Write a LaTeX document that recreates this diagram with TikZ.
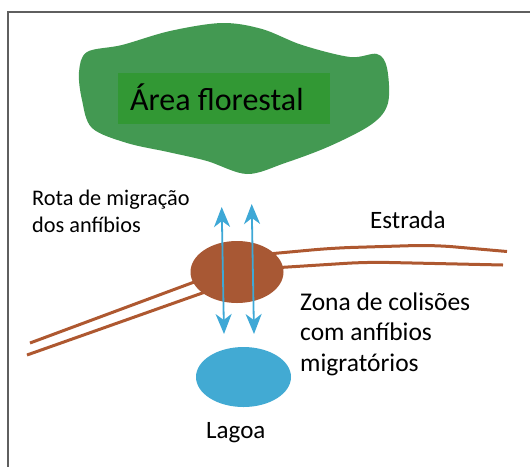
\documentclass[tikz,border=0pt]{standalone}
\usepackage{fontspec}
\setmainfont{Carlito}
\usetikzlibrary{arrows.meta,shapes.geometric}
\definecolor{blobgreen}{RGB}{67,153,82}
\definecolor{rectgreen}{RGB}{50,152,52}
\definecolor{roadbrown}{RGB}{174,88,48}
\definecolor{zonebrown}{RGB}{168,88,52}
\definecolor{lakeblue}{RGB}{66,170,211}
\definecolor{arrowblue}{RGB}{62,168,214}
\definecolor{framegray}{RGB}{95,95,95}
\tikzset{
  road/.style={draw=roadbrown, line width=3pt, line join=round},
  migr/.style={draw=arrowblue, line width=1.8pt, {Stealth[length=20pt,width=16pt,inset=6pt]}-{Stealth[length=20pt,width=16pt,inset=6pt]}},
  lbl/.style={anchor=base west, inner sep=0pt, text=black},
}
\begin{document}
\begin{tikzpicture}[x=1pt,y=-1pt]
\useasboundingbox (0,0) rectangle (530,467);
% frame
\coordinate (fTL) at (8,11.5);
\coordinate (fTR) at (530,11.5);
\coordinate (fBL) at (8,467);
\draw[framegray, line width=2pt] (fTR) -- (fTL) -- (fBL);
% forest blob
\fill[blobgreen] plot[smooth cycle, tension=0.55] coordinates {
 (79,72) (87,52) (122,45) (170,31) (222,23) (262,29) (302,45) (350,57) (377,54) (387,68)
 (388,103) (372,124) (330,146) (285,163) (247,174) (207,161) (168,152) (127,143) (92,128) (82,100)};
\node[fill=rectgreen, minimum width=212pt, minimum height=51pt, inner sep=0pt, anchor=north west] (forest) at (118,73) {};
\node[lbl, font=\fontsize{32}{38}\selectfont] (forestlbl) at (130,110) {Área florestal};
% roads
\coordinate (lu1) at (30,343); \coordinate (lu2) at (205,278);
\coordinate (ll1) at (27,355); \coordinate (ll2) at (208,291);
\coordinate (ru1) at (268,254); \coordinate (ru2) at (333,248); \coordinate (ru3) at (433,245); \coordinate (ru4) at (507,251.5);
\coordinate (rl1) at (272,268); \coordinate (rl2) at (367,262); \coordinate (rl3) at (503,265);
\draw[road] (lu1) -- (lu2);
\draw[road] (ll1) -- (ll2);
\draw[road, rounded corners=20pt] (ru1) -- (ru2) -- (ru3) -- (ru4);
\draw[road, rounded corners=20pt] (rl1) -- (rl2) -- (rl3);
% collision zone
\node[ellipse, fill=zonebrown, minimum width=93pt, minimum height=62pt, inner sep=0pt] (zone) at (237,272) {};
% lake
\node[ellipse, fill=lakeblue, minimum width=95pt, minimum height=60pt, inner sep=0pt] (lake) at (243.5,377) {};
% arrows
\coordinate (a1t) at (221.7,207); \coordinate (a1b) at (224,334);
\coordinate (a2t) at (251.7,204); \coordinate (a2b) at (254,334);
\draw[migr] (a1t) -- (a1b);
\draw[migr] (a2t) -- (a2b);
% labels
\node[lbl, font=\fontsize{22.3}{27}\selectfont] (rota1) at (32,205) {Rota de migração};
\node[lbl, font=\fontsize{22.3}{27}\selectfont] (rota2) at (32,232) {dos anfíbios};
\node[lbl, font=\fontsize{25}{30}\selectfont] (estrada) at (370,228) {Estrada};
\node[lbl, font=\fontsize{25.5}{30}\selectfont] (zona1) at (300,310) {Zona de colisões};
\node[lbl, font=\fontsize{25.5}{30}\selectfont] (zona2) at (300,340) {com anfíbios};
\node[lbl, font=\fontsize{25.5}{30}\selectfont] (zona3) at (300,371) {migratórios};
\node[lbl, font=\fontsize{25}{30}\selectfont] (lagoa) at (206,438) {Lagoa};
\end{tikzpicture}
\end{document}
